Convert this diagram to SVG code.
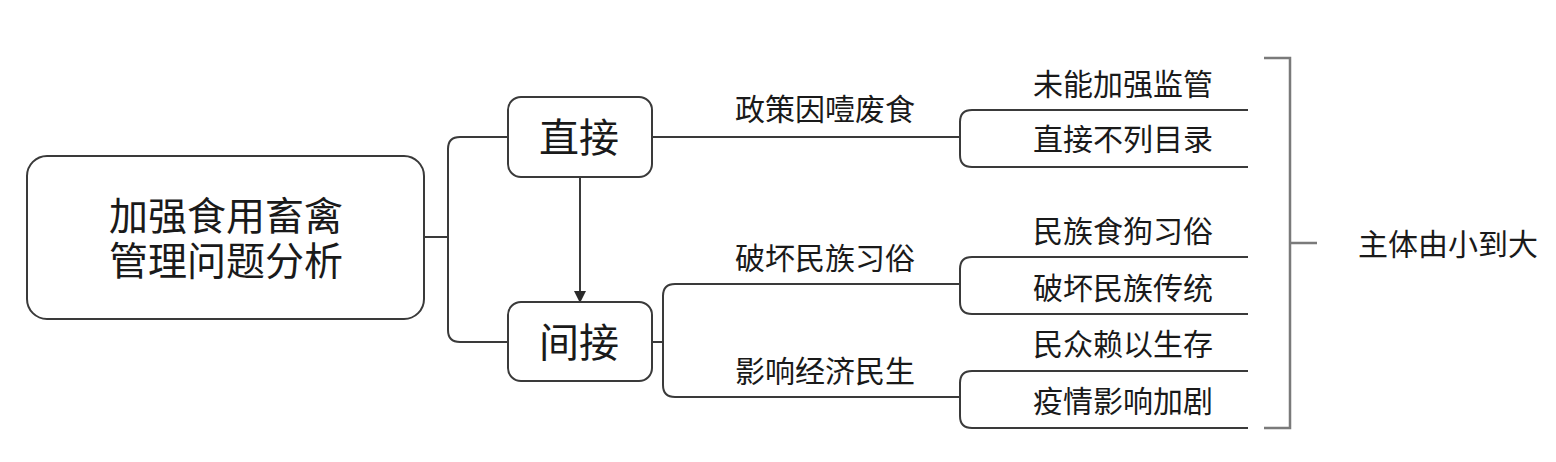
<svg xmlns="http://www.w3.org/2000/svg" width="1556" height="462" viewBox="0 0 1556 462">
<style>
  .box{fill:#fff;stroke:#3a3a3a;stroke-width:2}
  .ln{fill:none;stroke:#3a3a3a;stroke-width:2}
  .gr{fill:none;stroke:#7a7a7a;stroke-width:2.5}
  text{font-family:"Noto Sans CJK SC","Noto Sans",sans-serif;fill:#1a1a1a;text-anchor:middle}
  .big{font-size:40px}
  .ttl{font-size:39px}
  .sm{font-size:30px}
</style>
<defs>
  <marker id="arr" markerWidth="12" markerHeight="12" refX="11" refY="6" orient="auto" markerUnits="userSpaceOnUse">
    <path d="M0,0 L12,6 L0,12 Z" fill="#2a2a2a"/>
  </marker>
</defs>
<rect width="1556" height="462" fill="#fff"/>
<g id="connectors">
  <path class="ln" d="M424,237 H448"/>
  <path class="ln" d="M508,137 H460 Q448,137 448,149 V330 Q448,342 460,342 H508"/>
  <path class="ln" d="M580,177 V302" marker-end="url(#arr)"/>
  <path class="ln" d="M652,137 H960"/>
  <path class="ln" d="M1248,110 H972 Q960,110 960,122 V155 Q960,167 972,167 H1248"/>
  <path class="ln" d="M652,342 H663"/>
  <path class="ln" d="M960,284 H675 Q663,284 663,296 V385 Q663,397 675,397 H960"/>
  <path class="ln" d="M1248,257 H972 Q960,257 960,269 V302 Q960,314 972,314 H1248"/>
  <path class="ln" d="M1248,371 H972 Q960,371 960,383 V416 Q960,428 972,428 H1248"/>
  <path class="gr" d="M1264,58 H1290 V428 H1264 M1290,243 H1317"/>
</g>
<g id="n-root">
  <rect class="box" x="27" y="156" width="397" height="163" rx="20"/>
  <text class="ttl" x="226" y="230">加强食用畜禽<tspan x="226" dy="45">管理问题分析</tspan></text>
</g>
<g id="n-direct">
  <rect class="box" x="508" y="97" width="144" height="80" rx="13"/>
  <text class="big" x="579" y="152">直接</text>
</g>
<g id="n-indirect">
  <rect class="box" x="508" y="302" width="144" height="79" rx="13"/>
  <text class="big" x="579" y="357">间接</text>
</g>
<g id="l-policy"><text class="sm" x="825" y="120">政策因噎废食</text></g>
<g id="l-custom"><text class="sm" x="825" y="269">破坏民族习俗</text></g>
<g id="l-economy"><text class="sm" x="825" y="382">影响经济民生</text></g>
<g id="n-a1"><text class="sm" x="1123" y="95">未能加强监管</text></g>
<g id="n-a2"><text class="sm" x="1123" y="150">直接不列目录</text></g>
<g id="n-b1"><text class="sm" x="1123" y="242">民族食狗习俗</text></g>
<g id="n-b2"><text class="sm" x="1123" y="299">破坏民族传统</text></g>
<g id="n-c1"><text class="sm" x="1123" y="355">民众赖以生存</text></g>
<g id="n-c2"><text class="sm" x="1123" y="412">疫情影响加剧</text></g>
<g id="n-subject"><text class="sm" x="1448" y="255">主体由小到大</text></g>
</svg>
